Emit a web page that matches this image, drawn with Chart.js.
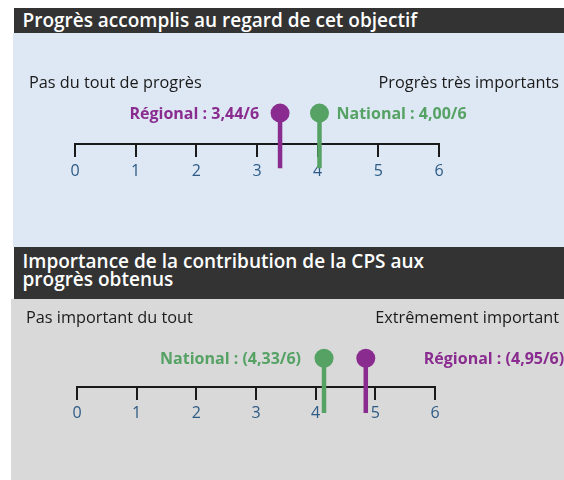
<!DOCTYPE html>
<html><head><meta charset="utf-8">
<script src="https://cdn.jsdelivr.net/npm/chart.js@4/dist/chart.umd.min.js"></script>
<style>
html,body{margin:0;padding:0;background:#fff;}
body{width:564px;height:480px;position:relative;overflow:hidden;font-family:"Open Sans",Lato,sans-serif;}
.bg{position:absolute;}
.head{position:absolute;background:#333333;color:#fff;font-weight:600;font-size:19px;line-height:17.5px;}
.head span{position:absolute;left:8.5px;white-space:nowrap;}
canvas{position:absolute;left:0;}
</style></head><body>
<div class="bg" style="left:13px;top:33px;width:551px;height:214px;background:#dde8f4"></div>
<div class="head" style="left:14px;top:8px;width:550px;height:25px;"><span style="top:4.2px">Progrès accomplis au regard de cet objectif</span></div>
<div class="bg" style="left:11px;top:299px;width:553px;height:181px;background:#d9d9d9"></div>
<div class="head" style="left:14px;top:247px;width:550px;height:52px;"><span style="top:6.2px">Importance de la contribution de la CPS aux<br>progrès obtenus</span></div>
<canvas id="c1" width="564" height="214" style="top:33px"></canvas>
<canvas id="c2" width="564" height="181" style="top:299px"></canvas>
<script>
// ---- data ----
const tickLabels = ['0', '1', '2', '3', '4', '5', '6'];

const progressSeries = ['Régional', 'National'];
const progressValues = [3.44, 4.00];          // values stated in the labels
const progressMarkers = [3.38, 4.03];         // where the markers are drawn
const progressScale = ['Pas du tout de progrès', 'Progrès très importants'];

const contribSeries = ['National', 'Régional'];
const contribValues = [4.33, 4.95];
const contribMarkers = [4.14, 4.84];
const contribScale = ['Pas important du tout', 'Extrêmement important'];

// ---- style ----
const PURPLE = '#8a2c8f';
const GREEN = '#55a264';
const TICK_COLOR = '#2d5b86';
const FONT = '"Open Sans"';
const colorFor = s => s === 'Régional' ? PURPLE : GREEN;
const fmt = v => v.toFixed(2).replace('.', ',');

const labelPlugin = {
  id: 'panelText',
  afterDatasetsDraw(chart, args, opts) {
    const ctx = chart.ctx;
    ctx.save();
    // scale end captions
    ctx.font = '16.3px ' + FONT;
    ctx.fillStyle = '#1a1a1a';
    ctx.textBaseline = 'alphabetic';
    ctx.textAlign = 'left';
    ctx.fillText(opts.ends[0], opts.endLeftX, opts.endY);
    ctx.textAlign = 'right';
    ctx.fillText(opts.ends[1], opts.endRightX, opts.endY);
    // value labels
    ctx.font = '700 16px ' + FONT;
    ctx.textBaseline = 'middle';
    chart.data.datasets.forEach((ds, i) => {
      const pt = chart.getDatasetMeta(i).data[0];
      const off = opts.offsets[i];
      ctx.fillStyle = ds.borderColor;
      ctx.textAlign = off < 0 ? 'right' : 'left';
      ctx.fillText(ds.valueText, pt.x + off, pt.y + 1);
    });
    ctx.restore();
  }
};

function makeChart(id, series, values, markers, ends, L) {
  const datasets = series.map((s, i) => ({
    label: s,
    valueText: s + ' : ' + L.wrap[0] + fmt(values[i]) + '/6' + L.wrap[1],
    data: [{x: markers[i], y: L.circleY}, {x: markers[i], y: L.stemBottom}],
    showLine: true,
    borderColor: colorFor(s),
    backgroundColor: colorFor(s),
    borderWidth: 4.5,
    pointRadius: [9.5, 0],
    pointHoverRadius: [9.5, 0],
    pointBorderWidth: 0,
    pointBackgroundColor: colorFor(s)
  }));
  return new Chart(document.getElementById(id), {
    type: 'scatter',
    data: {datasets},
    plugins: [labelPlugin],
    options: {
      responsive: false,
      animation: false,
      devicePixelRatio: 1,
      layout: {padding: {left: L.left, right: L.right, top: 0, bottom: 0}},
      plugins: {
        legend: {display: false},
        tooltip: {enabled: false},
        panelText: {ends, endLeftX: L.endLeftX, endRightX: 559, endY: L.endY, offsets: L.offsets}
      },
      scales: {
        x: {
          type: 'linear', min: 0, max: 6,
          position: {y: 0},
          afterFit: s => { s.height = 0; },
          ticks: {stepSize: 1, color: TICK_COLOR, font: {family: FONT, size: 16}, padding: L.tickPad,
                  callback: (v) => tickLabels[v]},
          grid: {drawOnChartArea: false, drawTicks: true, tickLength: 12, color: '#1a1a1a', lineWidth: 2},
          border: {display: true, color: '#1a1a1a', width: 2}
        },
        y: {display: false, min: L.yMin, max: L.yMax}
      }
    }
  });
}

makeChart('c1', progressSeries, progressValues, progressMarkers, progressScale, {
  left: 75, right: 125, yMin: -103, yMax: 111, circleY: 33.5, stemBottom: -27,
  endLeftX: 29, endY: 55, offsets: [-21, 17], wrap: ['', ''], tickPad: 6
});
makeChart('c2', contribSeries, contribValues, contribMarkers, contribScale, {
  left: 77, right: 129, yMin: -93.3, yMax: 87.7, circleY: 32.2, stemBottom: -29,
  endLeftX: 26, endY: 24, offsets: [-23, 58], wrap: ['(', ')'], tickPad: 5
});
</script>
</body></html>
